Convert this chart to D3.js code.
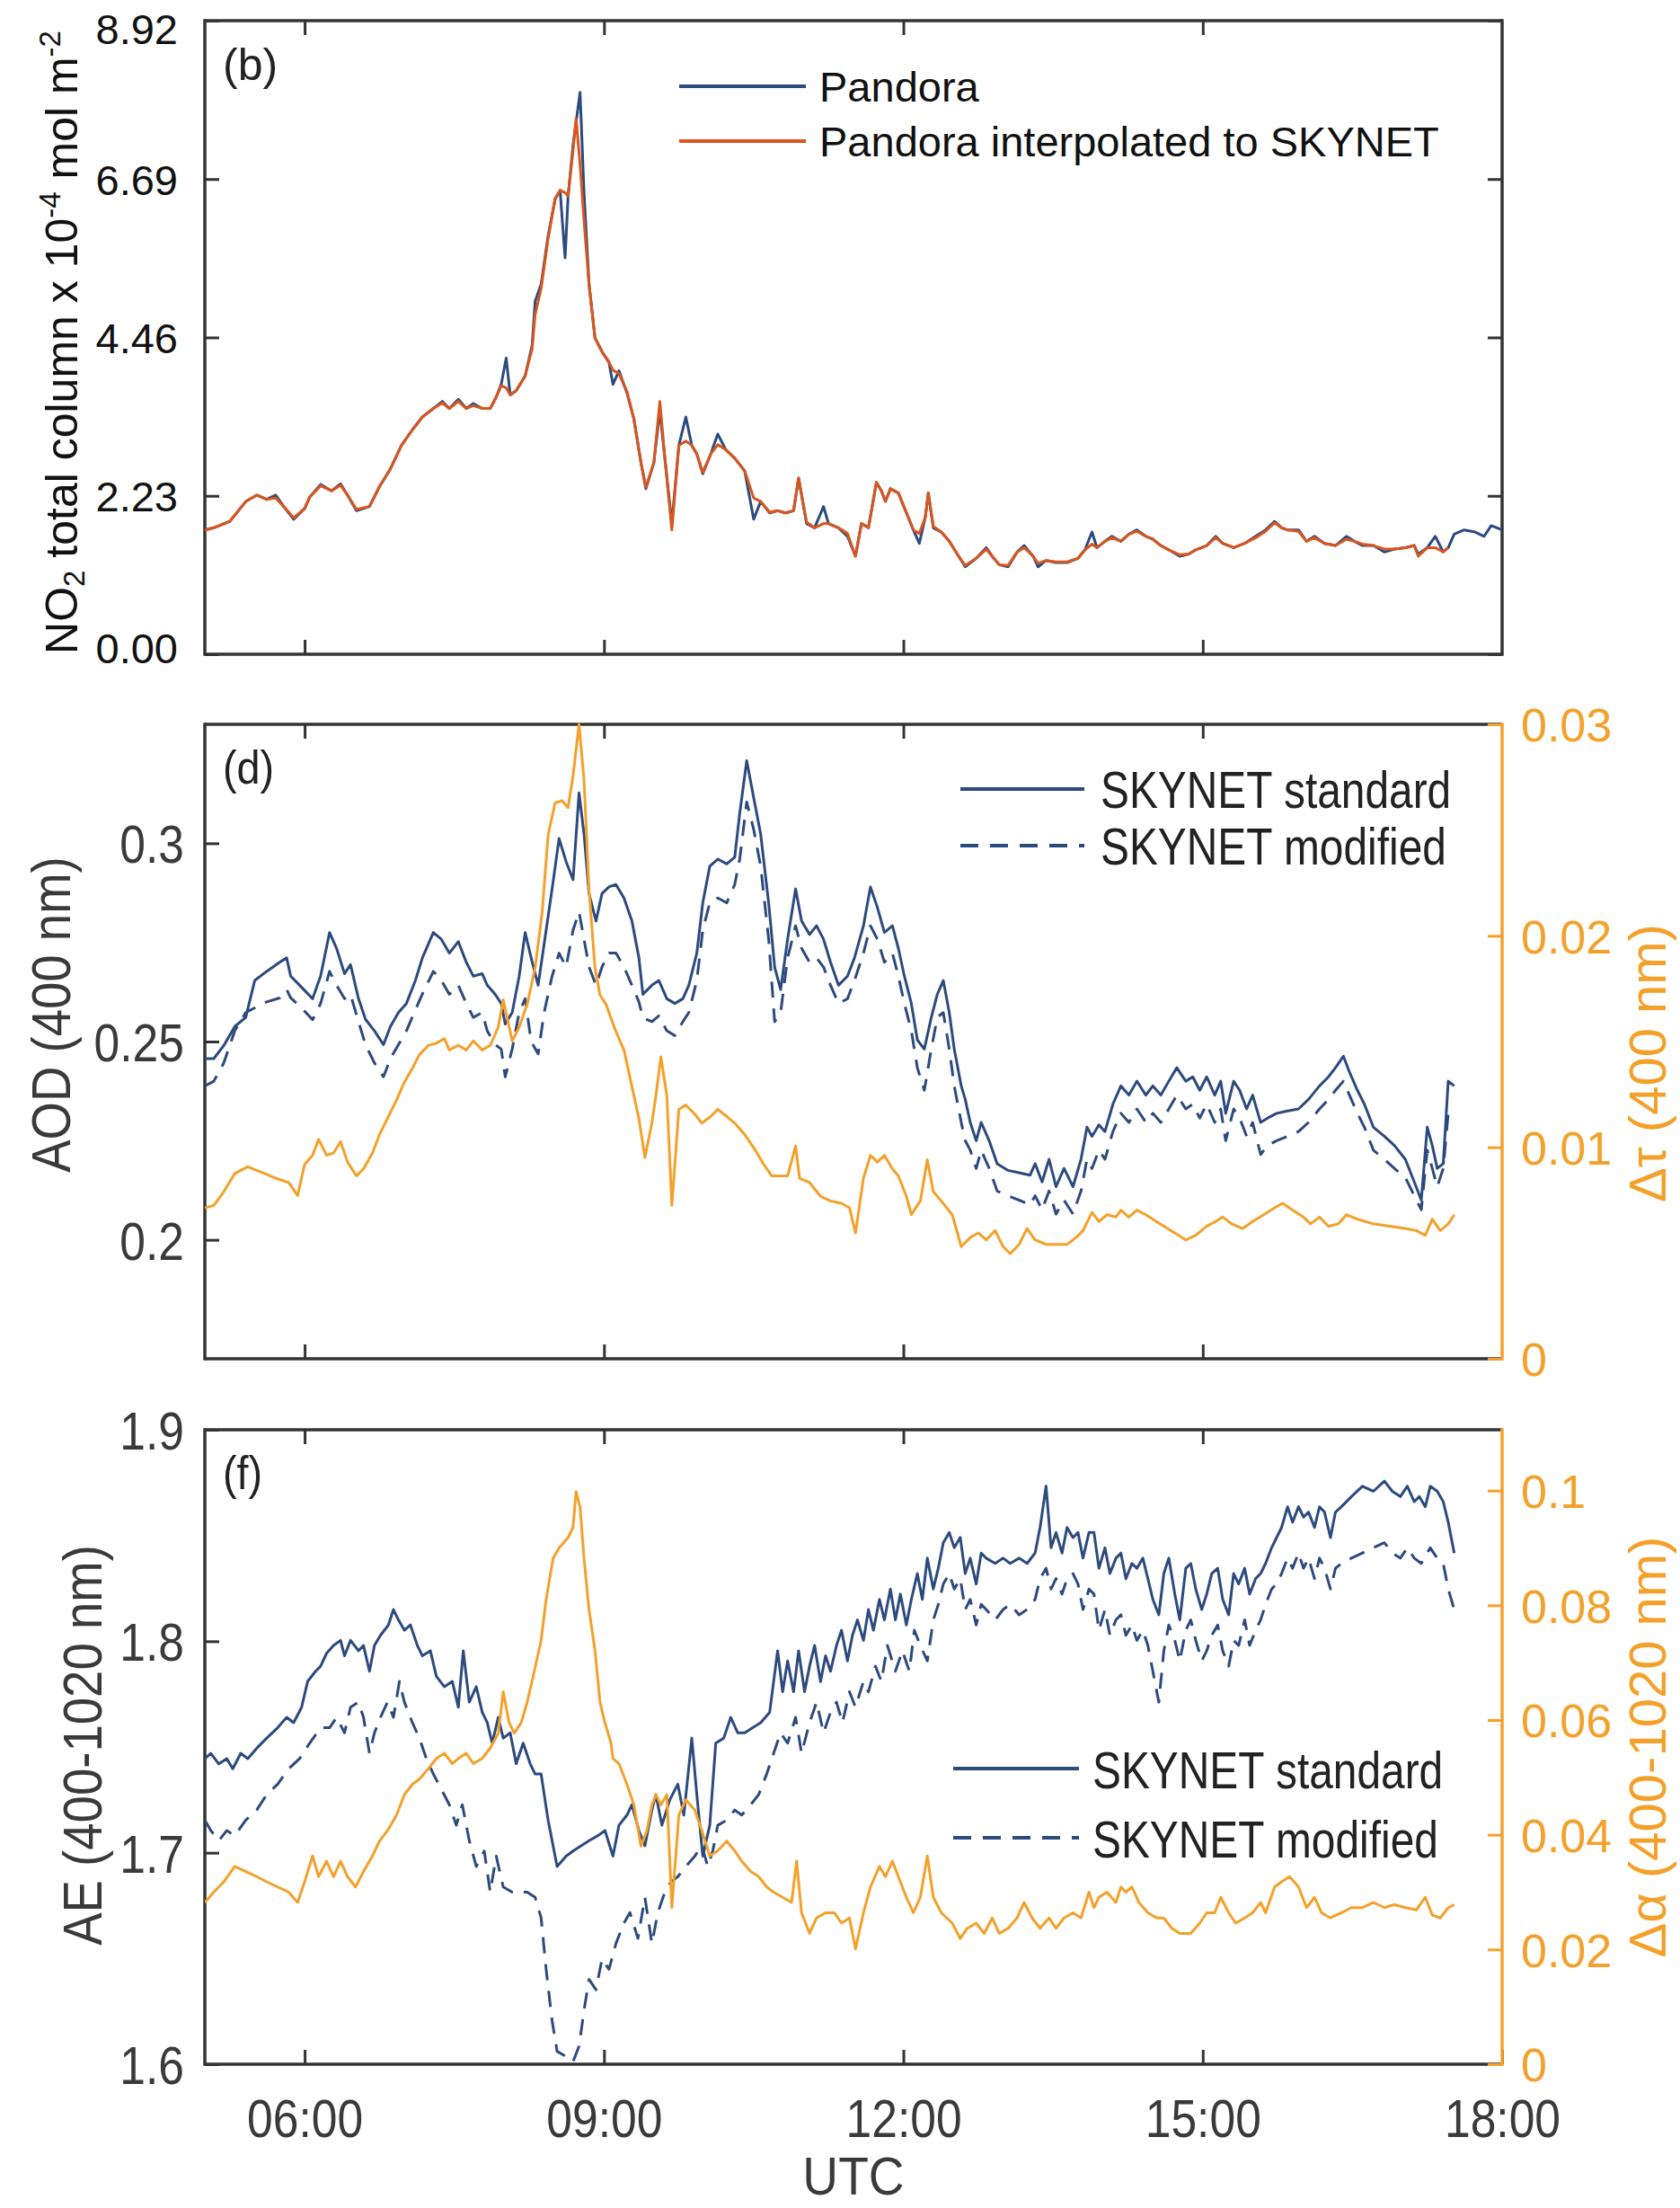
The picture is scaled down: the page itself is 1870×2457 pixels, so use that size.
<!DOCTYPE html>
<html>
<head>
<meta charset="utf-8">
<script src="https://cdn.jsdelivr.net/npm/d3@7"></script>
<style>
  body { margin: 0; background: #fff; }
</style>
</head>
<body>
<div id="chart"></div>
<script>
// ---- data (time in decimal hours UTC, value) ----
const pandora = [[5.00,1.75],[5.09,1.78],[5.25,1.87],[5.41,2.15],[5.52,2.24],[5.62,2.18],[5.71,2.24],[5.79,2.08],[5.89,1.90],[6.00,2.05],
[6.05,2.21],[6.16,2.39],[6.27,2.30],[6.36,2.40],[6.43,2.24],[6.52,2.02],[6.65,2.08],[6.75,2.36],[6.86,2.61],[6.97,2.94],
[7.08,3.16],[7.18,3.34],[7.29,3.46],[7.38,3.56],[7.45,3.46],[7.54,3.59],[7.62,3.46],[7.69,3.53],[7.78,3.46],[7.86,3.46],
[7.92,3.62],[7.97,3.80],[8.02,4.17],[8.06,3.65],[8.12,3.71],[8.21,3.92],[8.28,4.35],[8.31,4.97],[8.37,5.21],[8.44,5.89],
[8.51,6.41],[8.56,6.53],[8.61,5.58],[8.64,6.44],[8.69,7.17],[8.76,7.91],[8.80,6.50],[8.85,5.21],[8.91,4.45],[8.98,4.26],
[9.05,4.11],[9.09,3.80],[9.15,3.99],[9.23,3.68],[9.30,3.31],[9.37,2.70],[9.42,2.33],[9.50,2.70],[9.56,3.43],[9.61,2.76],
[9.68,1.84],[9.75,2.94],[9.82,3.34],[9.88,2.94],[9.93,2.82],[9.99,2.54],[10.07,2.82],[10.14,3.10],[10.22,2.88],[10.31,2.76],
[10.41,2.58],[10.50,1.90],[10.57,2.15],[10.66,1.99],[10.74,2.02],[10.82,1.99],[10.90,2.02],[10.95,2.48],[11.03,1.84],[11.11,1.78],
[11.20,2.08],[11.25,1.84],[11.35,1.78],[11.44,1.66],[11.52,1.38],[11.58,1.84],[11.65,1.78],[11.73,2.42],[11.78,2.30],[11.82,2.15],
[11.87,2.33],[11.95,2.27],[12.03,1.99],[12.10,1.75],[12.16,1.56],[12.22,1.93],[12.25,2.27],[12.30,1.78],[12.38,1.72],[12.46,1.59],
[12.54,1.41],[12.62,1.23],[12.73,1.35],[12.83,1.50],[12.89,1.38],[12.96,1.26],[13.05,1.23],[13.14,1.44],[13.21,1.53],[13.30,1.38],
[13.35,1.23],[13.43,1.32],[13.53,1.29],[13.64,1.29],[13.75,1.35],[13.82,1.47],[13.89,1.72],[13.94,1.50],[14.02,1.59],[14.09,1.66],
[14.18,1.59],[14.26,1.69],[14.34,1.75],[14.43,1.66],[14.50,1.62],[14.58,1.53],[14.66,1.47],[14.77,1.38],[14.86,1.41],[14.93,1.47],
[15.04,1.53],[15.13,1.66],[15.20,1.56],[15.31,1.50],[15.42,1.56],[15.53,1.66],[15.63,1.75],[15.72,1.87],[15.79,1.78],[15.85,1.75],
[15.96,1.75],[16.04,1.59],[16.12,1.66],[16.22,1.56],[16.33,1.53],[16.44,1.66],[16.52,1.59],[16.60,1.53],[16.71,1.53],[16.82,1.44],
[16.92,1.48],[17.03,1.50],[17.12,1.53],[17.16,1.41],[17.25,1.50],[17.33,1.66],[17.41,1.44],[17.46,1.50],[17.52,1.69],[17.62,1.75],
[17.73,1.72],[17.82,1.66],[17.89,1.81],[18.00,1.75]];

const pandoraInterp = [[5.00,1.75],[5.09,1.78],[5.25,1.87],[5.41,2.15],[5.52,2.24],[5.62,2.18],[5.71,2.20],[5.79,2.08],[5.89,1.92],[6.00,2.05],
[6.05,2.21],[6.16,2.37],[6.27,2.30],[6.36,2.38],[6.43,2.24],[6.52,2.04],[6.65,2.08],[6.75,2.36],[6.86,2.61],[6.97,2.94],
[7.08,3.16],[7.18,3.34],[7.29,3.46],[7.38,3.54],[7.45,3.46],[7.54,3.56],[7.62,3.46],[7.69,3.50],[7.78,3.46],[7.86,3.46],
[7.92,3.62],[7.97,3.78],[8.02,3.75],[8.06,3.65],[8.12,3.71],[8.21,3.92],[8.28,4.30],[8.31,4.78],[8.37,5.15],[8.44,5.85],
[8.51,6.41],[8.56,6.53],[8.61,6.50],[8.64,6.45],[8.69,7.10],[8.72,7.54],[8.76,6.90],[8.80,6.10],[8.85,5.21],[8.91,4.45],[8.98,4.26],
[9.05,4.11],[9.09,4.00],[9.15,3.95],[9.23,3.70],[9.30,3.31],[9.37,2.70],[9.42,2.35],[9.50,2.70],[9.56,3.56],[9.61,2.76],
[9.68,1.75],[9.75,2.94],[9.82,3.00],[9.88,2.94],[9.93,2.82],[9.99,2.56],[10.07,2.82],[10.14,2.95],[10.22,2.88],[10.31,2.76],
[10.41,2.58],[10.50,2.20],[10.57,2.15],[10.66,2.00],[10.74,2.02],[10.82,1.99],[10.90,2.02],[10.95,2.48],[11.03,1.86],[11.11,1.78],
[11.20,1.84],[11.25,1.84],[11.35,1.78],[11.44,1.70],[11.52,1.38],[11.58,1.84],[11.65,1.78],[11.73,2.42],[11.78,2.30],[11.82,2.15],
[11.87,2.33],[11.95,2.27],[12.03,2.00],[12.10,1.75],[12.16,1.70],[12.22,1.93],[12.25,2.27],[12.30,1.80],[12.38,1.72],[12.46,1.59],
[12.54,1.41],[12.62,1.25],[12.73,1.35],[12.83,1.48],[12.89,1.38],[12.96,1.26],[13.05,1.25],[13.14,1.44],[13.21,1.50],[13.30,1.38],
[13.35,1.28],[13.43,1.32],[13.53,1.30],[13.64,1.30],[13.75,1.35],[13.82,1.47],[13.89,1.55],[13.94,1.50],[14.02,1.59],[14.09,1.64],
[14.18,1.59],[14.26,1.69],[14.34,1.73],[14.43,1.66],[14.50,1.62],[14.58,1.53],[14.66,1.47],[14.77,1.40],[14.86,1.41],[14.93,1.47],
[15.04,1.53],[15.13,1.64],[15.20,1.56],[15.31,1.50],[15.42,1.56],[15.53,1.64],[15.63,1.73],[15.72,1.85],[15.79,1.78],[15.85,1.75],
[15.96,1.73],[16.04,1.59],[16.12,1.64],[16.22,1.56],[16.33,1.53],[16.44,1.62],[16.52,1.59],[16.60,1.55],[16.71,1.53],[16.82,1.48],
[16.92,1.48],[17.03,1.50],[17.12,1.53],[17.16,1.38],[17.25,1.50],[17.33,1.50],[17.41,1.44],[17.46,1.50]];

const aodStandard = [[5.00,0.2457],[5.09,0.2457],[5.19,0.2490],[5.30,0.2538],[5.41,0.2561],[5.50,0.2654],[5.62,0.2677],[5.75,0.2700],[5.82,0.2711],[5.86,0.2665],
[5.95,0.2642],[6.08,0.2608],[6.16,0.2665],[6.25,0.2775],[6.32,0.2735],[6.40,0.2671],[6.46,0.2694],[6.54,0.2608],[6.61,0.2556],[6.70,0.2527],
[6.79,0.2492],[6.86,0.2538],[6.94,0.2573],[7.02,0.2596],[7.11,0.2654],[7.18,0.2711],[7.29,0.2775],[7.37,0.2758],[7.45,0.2723],[7.54,0.2752],
[7.62,0.2700],[7.69,0.2665],[7.78,0.2671],[7.83,0.2642],[7.91,0.2619],[7.97,0.2596],[8.01,0.2544],[8.08,0.2573],[8.15,0.2665],[8.21,0.2775],
[8.27,0.2711],[8.34,0.2642],[8.40,0.2746],[8.48,0.2885],[8.55,0.3012],[8.62,0.2954],[8.69,0.2908],[8.75,0.3127],[8.80,0.3023],[8.85,0.2873],
[8.92,0.2804],[8.98,0.2873],[9.05,0.2890],[9.12,0.2896],[9.20,0.2862],[9.28,0.2804],[9.35,0.2711],[9.39,0.2619],[9.48,0.2642],[9.55,0.2654],
[9.63,0.2608],[9.71,0.2596],[9.79,0.2608],[9.85,0.2642],[9.93,0.2723],[9.99,0.2850],[10.06,0.2942],[10.14,0.2960],[10.23,0.2948],[10.31,0.2965],
[10.36,0.3075],[10.43,0.3208],[10.50,0.3115],[10.57,0.3023],[10.65,0.2850],[10.71,0.2688],[10.77,0.2631],[10.84,0.2758],[10.92,0.2885],[10.98,0.2804],
[11.06,0.2770],[11.13,0.2792],[11.20,0.2758],[11.27,0.2700],[11.35,0.2642],[11.44,0.2665],[11.51,0.2711],[11.60,0.2792],[11.67,0.2890],[11.74,0.2838],
[11.81,0.2775],[11.89,0.2792],[11.95,0.2735],[12.01,0.2665],[12.08,0.2596],[12.14,0.2504],[12.21,0.2481],[12.28,0.2561],[12.34,0.2619],[12.40,0.2654],
[12.46,0.2573],[12.51,0.2481],[12.58,0.2388],[12.62,0.2354],[12.67,0.2296],[12.73,0.2250],[12.78,0.2296],[12.86,0.2250],[12.94,0.2192],[13.05,0.2175],
[13.16,0.2169],[13.27,0.2163],[13.32,0.2192],[13.39,0.2146],[13.46,0.2203],[13.53,0.2134],[13.61,0.2180],[13.70,0.2134],[13.78,0.2203],[13.84,0.2284],
[13.89,0.2261],[13.96,0.2290],[14.02,0.2273],[14.10,0.2342],[14.18,0.2388],[14.26,0.2365],[14.34,0.2400],[14.43,0.2365],[14.50,0.2388],[14.58,0.2365],
[14.66,0.2400],[14.74,0.2434],[14.83,0.2400],[14.90,0.2411],[14.97,0.2377],[15.04,0.2411],[15.12,0.2365],[15.18,0.2400],[15.23,0.2319],[15.31,0.2400],
[15.37,0.2377],[15.44,0.2330],[15.50,0.2365],[15.58,0.2296],[15.65,0.2307],[15.74,0.2319],[15.85,0.2325],[15.96,0.2330],[16.06,0.2354],[16.17,0.2388],
[16.26,0.2411],[16.33,0.2434],[16.41,0.2463],[16.47,0.2423],[16.55,0.2377],[16.62,0.2342],[16.71,0.2284],[16.82,0.2261],[16.92,0.2238],[17.03,0.2203],
[17.12,0.2146],[17.19,0.2100],[17.25,0.2284],[17.30,0.2238],[17.35,0.2180],[17.41,0.2192],[17.46,0.2400],[17.52,0.2388]];

const aodModified = [[5.00,0.2388],[5.09,0.2400],[5.19,0.2446],[5.30,0.2527],[5.41,0.2573],[5.50,0.2585],[5.62,0.2600],[5.75,0.2610],[5.82,0.2631],[5.86,0.2610],
[5.95,0.2590],[6.08,0.2555],[6.16,0.2596],[6.25,0.2677],[6.32,0.2642],[6.40,0.2608],[6.46,0.2619],[6.54,0.2550],[6.61,0.2492],[6.70,0.2446],
[6.79,0.2411],[6.86,0.2457],[6.94,0.2492],[7.02,0.2527],[7.11,0.2580],[7.18,0.2620],[7.29,0.2677],[7.37,0.2654],[7.45,0.2619],[7.54,0.2642],
[7.62,0.2596],[7.69,0.2561],[7.78,0.2573],[7.83,0.2527],[7.91,0.2492],[7.97,0.2481],[8.01,0.2411],[8.08,0.2481],[8.15,0.2573],[8.21,0.2608],
[8.27,0.2500],[8.34,0.2469],[8.40,0.2573],[8.48,0.2665],[8.55,0.2723],[8.62,0.2688],[8.69,0.2781],[8.75,0.2827],[8.80,0.2758],[8.85,0.2688],
[8.92,0.2642],[8.98,0.2688],[9.05,0.2723],[9.12,0.2723],[9.20,0.2688],[9.28,0.2642],[9.35,0.2600],[9.39,0.2560],[9.48,0.2550],[9.55,0.2565],
[9.63,0.2527],[9.71,0.2515],[9.79,0.2550],[9.85,0.2573],[9.93,0.2654],[9.99,0.2781],[10.06,0.2850],[10.14,0.2862],[10.23,0.2850],[10.31,0.2896],
[10.36,0.2960],[10.43,0.3104],[10.50,0.3035],[10.57,0.2942],[10.65,0.2758],[10.71,0.2550],[10.77,0.2573],[10.84,0.2711],[10.92,0.2792],[10.98,0.2735],
[11.06,0.2700],[11.13,0.2711],[11.20,0.2688],[11.27,0.2642],[11.35,0.2596],[11.44,0.2608],[11.51,0.2654],[11.60,0.2723],[11.67,0.2792],[11.74,0.2758],
[11.81,0.2700],[11.89,0.2723],[11.95,0.2665],[12.01,0.2596],[12.08,0.2527],[12.14,0.2434],[12.21,0.2377],[12.28,0.2481],[12.34,0.2561],[12.40,0.2573],
[12.46,0.2481],[12.51,0.2388],[12.58,0.2296],[12.62,0.2250],[12.67,0.2226],[12.73,0.2180],[12.78,0.2226],[12.86,0.2180],[12.94,0.2123],[13.05,0.2111],
[13.16,0.2100],[13.27,0.2088],[13.32,0.2111],[13.39,0.2076],[13.46,0.2123],[13.53,0.2065],[13.61,0.2100],[13.70,0.2065],[13.78,0.2123],[13.84,0.2203],
[13.89,0.2180],[13.96,0.2226],[14.02,0.2203],[14.10,0.2273],[14.18,0.2319],[14.26,0.2296],[14.34,0.2330],[14.43,0.2296],[14.50,0.2319],[14.58,0.2296],
[14.66,0.2330],[14.74,0.2365],[14.83,0.2330],[14.90,0.2342],[14.97,0.2307],[15.04,0.2342],[15.12,0.2296],[15.18,0.2330],[15.23,0.2250],[15.31,0.2330],
[15.37,0.2307],[15.44,0.2261],[15.50,0.2296],[15.58,0.2215],[15.65,0.2238],[15.74,0.2250],[15.85,0.2261],[15.96,0.2273],[16.06,0.2296],[16.17,0.2330],
[16.26,0.2354],[16.33,0.2377],[16.41,0.2400],[16.47,0.2365],[16.55,0.2319],[16.62,0.2284],[16.71,0.2226],[16.82,0.2203],[16.92,0.2180],[17.03,0.2157],
[17.12,0.2111],[17.19,0.2076],[17.25,0.2226],[17.30,0.2180],[17.35,0.2134],[17.41,0.2180],[17.46,0.2319],[17.52,0.2313]];

const deltaTau = [[5.00,0.00714],[5.09,0.00725],[5.19,0.0079],[5.30,0.00876],[5.43,0.00908],[5.60,0.00876],[5.71,0.00854],[5.84,0.00833],[5.93,0.00772],[6.00,0.00919],
[6.08,0.00962],[6.14,0.01038],[6.22,0.00962],[6.29,0.00973],[6.36,0.01027],[6.43,0.0093],[6.52,0.00865],[6.59,0.00898],[6.68,0.00973],[6.75,0.0106],
[6.83,0.01136],[6.92,0.01222],[7.00,0.01309],[7.08,0.01373],[7.15,0.01438],[7.24,0.01482],[7.32,0.01492],[7.40,0.01514],[7.45,0.0146],[7.54,0.01482],
[7.62,0.0146],[7.69,0.01503],[7.78,0.0146],[7.86,0.01482],[7.94,0.01568],[7.99,0.01698],[8.08,0.01503],[8.15,0.01568],[8.23,0.01676],[8.31,0.01849],
[8.38,0.02109],[8.44,0.02477],[8.51,0.02628],[8.58,0.02639],[8.64,0.02606],[8.69,0.02758],[8.75,0.0300],[8.80,0.02736],[8.85,0.02219],[8.91,0.01849],
[8.96,0.0172],[9.02,0.01676],[9.07,0.01611],[9.12,0.01547],[9.20,0.0146],[9.28,0.01287],[9.35,0.01136],[9.41,0.00952],[9.48,0.01114],[9.52,0.01244],
[9.57,0.01428],[9.63,0.01244],[9.68,0.00725],[9.75,0.01179],[9.82,0.012],[9.91,0.01157],[9.98,0.01114],[10.07,0.01146],[10.14,0.01179],[10.23,0.01146],
[10.31,0.01114],[10.41,0.0106],[10.52,0.00984],[10.60,0.00919],[10.68,0.00865],[10.77,0.00865],[10.84,0.00865],[10.92,0.01006],[10.96,0.00854],[11.06,0.00833],
[11.17,0.00768],[11.27,0.00746],[11.38,0.00735],[11.46,0.00714],[11.52,0.00595],[11.60,0.00854],[11.67,0.00962],[11.74,0.0093],[11.81,0.00962],[11.89,0.00898],
[11.95,0.00865],[12.03,0.00768],[12.08,0.00681],[12.17,0.00746],[12.24,0.00941],[12.30,0.0079],[12.38,0.00746],[12.49,0.00681],[12.58,0.0053],[12.67,0.00573],
[12.75,0.00595],[12.83,0.00562],[12.92,0.00606],[13.00,0.0053],[13.07,0.00497],[13.16,0.00541],[13.24,0.00616],[13.32,0.00562],[13.43,0.00541],[13.53,0.00541],
[13.64,0.00541],[13.73,0.00573],[13.80,0.00606],[13.89,0.00692],[13.96,0.00649],[14.04,0.00681],[14.13,0.0067],[14.18,0.00703],[14.26,0.0067],[14.34,0.00703],
[14.43,0.00681],[14.50,0.0066],[14.61,0.00627],[14.72,0.00595],[14.83,0.00562],[14.93,0.00584],[15.04,0.00627],[15.13,0.00649],[15.20,0.0067],[15.29,0.00638],
[15.40,0.00616],[15.50,0.00649],[15.61,0.00681],[15.72,0.00714],[15.80,0.00735],[15.90,0.00703],[16.01,0.0067],[16.08,0.00638],[16.17,0.0067],[16.26,0.00627],
[16.36,0.00638],[16.44,0.00681],[16.55,0.0066],[16.71,0.00638],[16.87,0.00627],[17.03,0.00616],[17.14,0.00606],[17.23,0.00584],[17.30,0.0066],[17.38,0.00606],
[17.46,0.00638],[17.52,0.00681]];

const aeStandard = [[5.00,1.7445],[5.06,1.7470],[5.14,1.7420],[5.22,1.7445],[5.28,1.7397],[5.36,1.7470],[5.43,1.7445],[5.52,1.7494],[5.62,1.7542],[5.73,1.7591],
[5.82,1.7640],[5.89,1.7615],[5.97,1.7688],[6.03,1.7810],[6.11,1.7858],[6.16,1.7882],[6.22,1.7943],[6.29,1.7980],[6.36,1.8004],[6.40,1.7931],
[6.46,1.8004],[6.54,1.7955],[6.59,1.7980],[6.65,1.7858],[6.70,1.7980],[6.76,1.8028],[6.84,1.8077],[6.89,1.8150],[6.94,1.8101],[7.00,1.8052],
[7.06,1.8077],[7.13,1.7980],[7.18,1.7931],[7.26,1.7955],[7.32,1.7834],[7.40,1.7785],[7.48,1.7810],[7.54,1.7688],[7.59,1.7955],[7.65,1.7712],
[7.72,1.7785],[7.78,1.7664],[7.83,1.7615],[7.88,1.7518],[7.94,1.7640],[7.99,1.7542],[8.06,1.7567],[8.12,1.7421],[8.19,1.7518],[8.26,1.7421],
[8.31,1.7372],[8.37,1.7372],[8.44,1.7154],[8.53,1.6935],[8.62,1.6984],[8.69,1.7008],[8.77,1.7033],[8.85,1.7057],[8.94,1.7081],[9.01,1.7105],
[9.09,1.6984],[9.15,1.7130],[9.23,1.7178],[9.28,1.7227],[9.35,1.7105],[9.41,1.7033],[9.48,1.7202],[9.52,1.7275],[9.58,1.7130],[9.66,1.7251],
[9.74,1.7324],[9.80,1.7178],[9.88,1.7542],[9.93,1.7275],[9.99,1.6984],[10.06,1.7130],[10.12,1.7518],[10.20,1.7542],[10.27,1.7640],[10.34,1.7567],
[10.41,1.7567],[10.49,1.7591],[10.57,1.7615],[10.66,1.7664],[10.74,1.7955],[10.79,1.7761],[10.84,1.7907],[10.90,1.7761],[10.95,1.7955],[11.01,1.7761],
[11.06,1.7882],[11.11,1.7980],[11.17,1.7809],[11.22,1.7931],[11.27,1.7858],[11.33,1.7980],[11.38,1.8052],[11.44,1.7907],[11.49,1.8028],[11.54,1.8101],
[11.60,1.8004],[11.65,1.8150],[11.70,1.8052],[11.76,1.8198],[11.81,1.8101],[11.87,1.8247],[11.92,1.8101],[11.97,1.8223],[12.03,1.8077],[12.08,1.8198],
[12.14,1.8320],[12.19,1.8198],[12.24,1.8393],[12.30,1.8247],[12.35,1.8345],[12.40,1.8466],[12.46,1.8514],[12.51,1.8442],[12.57,1.8491],[12.62,1.8320],
[12.67,1.8393],[12.73,1.8271],[12.78,1.8417],[12.83,1.8393],[12.92,1.8368],[13.00,1.8393],[13.07,1.8368],[13.16,1.8393],[13.24,1.8368],[13.32,1.8417],
[13.37,1.8538],[13.43,1.8733],[13.48,1.8442],[13.53,1.8514],[13.59,1.8417],[13.64,1.8538],[13.70,1.8490],[13.75,1.8514],[13.80,1.8393],[13.86,1.8514],
[13.91,1.8514],[13.96,1.8345],[14.02,1.8442],[14.07,1.8320],[14.13,1.8393],[14.18,1.8417],[14.23,1.8296],[14.29,1.8368],[14.34,1.8345],[14.40,1.8393],
[14.45,1.8296],[14.50,1.8198],[14.56,1.8125],[14.61,1.8320],[14.66,1.8393],[14.72,1.8223],[14.77,1.8101],[14.83,1.8345],[14.88,1.8368],[14.93,1.8247],
[14.99,1.8150],[15.04,1.8223],[15.09,1.8320],[15.15,1.8345],[15.20,1.8198],[15.26,1.8125],[15.31,1.8320],[15.36,1.8271],[15.42,1.8345],[15.47,1.8223],
[15.53,1.8296],[15.58,1.8320],[15.63,1.8368],[15.69,1.8442],[15.74,1.8490],[15.79,1.8538],[15.85,1.8636],[15.90,1.8563],[15.96,1.8636],[16.01,1.8587],
[16.06,1.8611],[16.12,1.8538],[16.17,1.8636],[16.22,1.8611],[16.28,1.8490],[16.33,1.8611],[16.39,1.8636],[16.49,1.8684],[16.60,1.8733],[16.71,1.8709],
[16.82,1.8757],[16.90,1.8709],[16.98,1.8684],[17.05,1.8733],[17.12,1.8660],[17.17,1.8684],[17.23,1.8636],[17.28,1.8733],[17.35,1.8709],[17.41,1.8660],
[17.46,1.8563],[17.52,1.8417]];

const aeModified = [[5.00,1.7154],[5.06,1.7105],[5.14,1.7057],[5.22,1.7105],[5.30,1.7081],[5.41,1.7154],[5.52,1.7202],[5.62,1.7275],[5.73,1.7324],[5.84,1.7397],
[5.95,1.7445],[6.05,1.7518],[6.16,1.7591],[6.25,1.7591],[6.32,1.7640],[6.40,1.7567],[6.46,1.7688],[6.54,1.7712],[6.59,1.7640],[6.65,1.7470],
[6.70,1.7567],[6.76,1.7640],[6.83,1.7712],[6.89,1.7640],[6.95,1.7810],[7.00,1.7712],[7.08,1.7615],[7.15,1.7542],[7.22,1.7445],[7.29,1.7372],
[7.37,1.7300],[7.45,1.7227],[7.52,1.7130],[7.58,1.7227],[7.65,1.7057],[7.72,1.6935],[7.80,1.7008],[7.86,1.6814],[7.92,1.6984],[7.99,1.6838],
[8.08,1.6814],[8.15,1.6814],[8.23,1.6814],[8.31,1.6789],[8.37,1.6692],[8.42,1.6449],[8.48,1.6206],[8.53,1.6061],[8.62,1.6036],[8.69,1.6012],
[8.75,1.6085],[8.80,1.6255],[8.85,1.6401],[8.92,1.6352],[8.98,1.6498],[9.05,1.6449],[9.12,1.6571],[9.20,1.6668],[9.26,1.6717],[9.34,1.6595],
[9.41,1.6789],[9.48,1.6571],[9.54,1.6717],[9.61,1.6814],[9.67,1.6862],[9.74,1.6887],[9.82,1.6935],[9.91,1.6984],[9.98,1.7033],[10.04,1.6935],
[10.09,1.7008],[10.14,1.7130],[10.23,1.7154],[10.31,1.7202],[10.38,1.7178],[10.47,1.7227],[10.55,1.7275],[10.63,1.7372],[10.70,1.7470],[10.77,1.7567],
[10.84,1.7518],[10.92,1.7640],[10.98,1.7470],[11.06,1.7615],[11.13,1.7712],[11.20,1.7567],[11.27,1.7664],[11.33,1.7712],[11.39,1.7615],[11.46,1.7761],
[11.52,1.7688],[11.60,1.7810],[11.65,1.7761],[11.72,1.7882],[11.78,1.7810],[11.84,1.7980],[11.92,1.7858],[11.99,1.7955],[12.06,1.7858],[12.11,1.8052],
[12.17,1.7980],[12.24,1.7907],[12.30,1.8101],[12.35,1.8174],[12.40,1.8271],[12.46,1.8320],[12.51,1.8247],[12.57,1.8296],[12.62,1.8150],[12.67,1.8198],
[12.73,1.8077],[12.78,1.8174],[12.83,1.8150],[12.92,1.8101],[13.00,1.8150],[13.07,1.8174],[13.16,1.8125],[13.24,1.8150],[13.32,1.8198],[13.37,1.8296],
[13.43,1.8345],[13.48,1.8247],[13.53,1.8296],[13.59,1.8223],[13.64,1.8296],[13.70,1.8320],[13.75,1.8271],[13.80,1.8150],[13.86,1.8247],[13.91,1.8223],
[13.96,1.8052],[14.02,1.8150],[14.07,1.8028],[14.13,1.8101],[14.18,1.8125],[14.23,1.8028],[14.29,1.8077],[14.34,1.8004],[14.40,1.8052],[14.45,1.7980],
[14.50,1.7858],[14.56,1.7712],[14.61,1.7955],[14.66,1.8077],[14.72,1.8004],[14.77,1.7907],[14.83,1.8052],[14.88,1.8101],[14.93,1.8004],[14.99,1.7907],
[15.04,1.7955],[15.09,1.8028],[15.15,1.8077],[15.20,1.7955],[15.26,1.7882],[15.31,1.8004],[15.36,1.7980],[15.42,1.8101],[15.47,1.7980],[15.53,1.8052],
[15.58,1.8101],[15.63,1.8174],[15.69,1.8247],[15.74,1.8271],[15.79,1.8320],[15.85,1.8393],[15.90,1.8345],[15.96,1.8417],[16.01,1.8345],[16.06,1.8393],
[16.12,1.8296],[16.17,1.8393],[16.22,1.8345],[16.28,1.8247],[16.33,1.8345],[16.39,1.8368],[16.49,1.8393],[16.60,1.8417],[16.71,1.8442],[16.82,1.8466],
[16.90,1.8417],[16.98,1.8393],[17.05,1.8442],[17.12,1.8393],[17.19,1.8368],[17.28,1.8442],[17.35,1.8393],[17.41,1.8368],[17.46,1.8247],[17.52,1.8150]];

const deltaAlpha = [[5.00,0.0282],[5.09,0.0300],[5.19,0.0318],[5.30,0.0345],[5.41,0.0336],[5.52,0.0327],[5.62,0.0318],[5.73,0.0309],[5.84,0.0300],[5.93,0.0282],
[6.00,0.0318],[6.08,0.0363],[6.14,0.0327],[6.22,0.0354],[6.29,0.0327],[6.36,0.0354],[6.43,0.0327],[6.51,0.0309],[6.59,0.0336],[6.68,0.0363],
[6.75,0.0389],[6.83,0.0407],[6.92,0.0434],[7.00,0.0470],[7.08,0.0488],[7.15,0.0497],[7.24,0.0515],[7.32,0.0533],[7.40,0.0542],[7.48,0.0524],
[7.54,0.0533],[7.62,0.0542],[7.69,0.0524],[7.78,0.0533],[7.86,0.0551],[7.94,0.0577],[7.99,0.0649],[8.05,0.0595],[8.10,0.0577],[8.17,0.0595],
[8.23,0.0631],[8.29,0.0676],[8.37,0.0739],[8.42,0.0810],[8.49,0.0882],[8.55,0.0900],[8.64,0.0918],[8.69,0.0936],[8.72,0.0998],[8.76,0.0971],
[8.80,0.0882],[8.85,0.0792],[8.91,0.0721],[8.96,0.0631],[9.01,0.0595],[9.07,0.0560],[9.09,0.0533],[9.15,0.0524],[9.23,0.0488],[9.30,0.0452],
[9.37,0.0380],[9.43,0.0407],[9.48,0.0452],[9.52,0.0470],[9.57,0.0452],[9.63,0.0470],[9.68,0.0273],[9.75,0.0434],[9.82,0.0461],[9.91,0.0443],
[9.98,0.0407],[10.06,0.0363],[10.14,0.0372],[10.23,0.0389],[10.31,0.0372],[10.38,0.0354],[10.47,0.0336],[10.55,0.0327],[10.63,0.0309],[10.70,0.0300],
[10.79,0.0291],[10.88,0.0282],[10.93,0.0354],[10.98,0.0264],[11.06,0.0228],[11.13,0.0255],[11.22,0.0264],[11.31,0.0264],[11.38,0.0246],[11.46,0.0255],
[11.52,0.0201],[11.60,0.0264],[11.67,0.0309],[11.76,0.0345],[11.82,0.0327],[11.89,0.0354],[11.95,0.0327],[12.03,0.0291],[12.10,0.0264],[12.17,0.0291],
[12.24,0.0363],[12.30,0.0291],[12.38,0.0264],[12.49,0.0246],[12.57,0.0219],[12.64,0.0237],[12.73,0.0246],[12.81,0.0228],[12.89,0.0255],[12.96,0.0228],
[13.05,0.0237],[13.14,0.0255],[13.21,0.0282],[13.29,0.0255],[13.37,0.0237],[13.46,0.0255],[13.53,0.0237],[13.61,0.0255],[13.70,0.0264],[13.78,0.0255],
[13.86,0.0300],[13.91,0.0273],[13.96,0.0291],[14.04,0.0300],[14.13,0.0282],[14.18,0.0309],[14.23,0.0300],[14.29,0.0309],[14.36,0.0282],[14.45,0.0264],
[14.54,0.0255],[14.61,0.0255],[14.69,0.0237],[14.77,0.0228],[14.88,0.0228],[14.97,0.0246],[15.04,0.0264],[15.12,0.0264],[15.18,0.0291],[15.26,0.0264],
[15.33,0.0246],[15.42,0.0255],[15.50,0.0264],[15.58,0.0282],[15.63,0.0264],[15.72,0.0309],[15.79,0.0318],[15.87,0.0327],[15.96,0.0309],[16.04,0.0273],
[16.12,0.0291],[16.19,0.0264],[16.28,0.0255],[16.39,0.0264],[16.49,0.0273],[16.60,0.0273],[16.71,0.0282],[16.82,0.0273],[16.92,0.0278],[17.03,0.0273],
[17.14,0.0269],[17.23,0.0291],[17.30,0.0260],[17.38,0.0255],[17.46,0.0273],[17.52,0.0278]];

const timeTicks = [6, 9, 12, 15, 18];
const no2Ticks = [0, 2.23, 4.46, 6.69, 8.92];
const aodTicks = [0.2, 0.25, 0.3];
const dTauTicks = [0, 0.01, 0.02, 0.03];
const aeTicks = [1.6, 1.7, 1.8, 1.9];
const dAlphaTicks = [0, 0.02, 0.04, 0.06, 0.08, 0.1];

// ---- styling ----
const FONT = "'Liberation Sans', Arial, Helvetica, sans-serif";
const BLUE = '#2c4a7e', RED = '#d9561f', ORANGE = '#f4a12b';
const DARK = '#333', GREY = '#3a3a3a';
const W = 1870, H = 2457;
const L = 228, R = 1672;

const svg = d3.select('#chart').append('svg')
  .attr('width', W).attr('height', H)
  .attr('font-family', FONT)
  .style('background', '#fff');

const x = d3.scaleLinear().domain([5, 18]).range([L, R]);
const hhmm = h => String(h).padStart(2, '0') + ':00';

// text helper; sx < 1 squeezes glyphs horizontally (the figure uses a narrow face)
function addText(g, str, px, py, o) {
  let tr = `translate(${px},${py})`;
  if (o.rotate) tr += ` rotate(${o.rotate})`;
  if (o.sx) tr += ` scale(${o.sx},1)`;
  return g.append('text')
    .attr('transform', tr)
    .attr('text-anchor', o.anchor || 'start')
    .attr('font-size', o.size)
    .attr('fill', o.color)
    .text(str);
}

function styleTicks(ax, color) {
  ax.select('.domain').remove();
  ax.selectAll('.tick line').attr('stroke', color).attr('stroke-width', 3);
}

function drawPanel(cfg) {
  const g = svg.append('g');
  const y = d3.scaleLinear().domain(cfg.yDomain).range([cfg.bottom, cfg.top]);

  const clipId = 'clip-' + cfg.name;
  svg.append('clipPath').attr('id', clipId).append('rect')
    .attr('x', L).attr('y', cfg.top - 2).attr('width', R - L).attr('height', cfg.bottom - cfg.top + 4);

  // top / bottom time ticks
  const top = g.append('g').attr('transform', `translate(0,${cfg.top})`)
    .call(d3.axisTop(x).tickValues([6, 9, 12, 15]).tickSizeInner(-16).tickSizeOuter(0).tickFormat(''));
  styleTicks(top, DARK);
  const bot = g.append('g').attr('transform', `translate(0,${cfg.bottom})`)
    .call(d3.axisBottom(x).tickValues(cfg.timeLabels ? timeTicks : [6, 9, 12, 15])
      .tickSizeInner(-16).tickSizeOuter(0).tickFormat(cfg.timeLabels ? hhmm : ''));
  styleTicks(bot, DARK);
  if (cfg.timeLabels) {
    bot.selectAll('.tick text')
      .attr('y', 0).attr('dy', null)
      .attr('transform', 'translate(0,81) scale(0.86,1)')
      .attr('font-size', 60).attr('fill', GREY).attr('font-family', FONT);
  }

  // left axis
  const lf = g.append('g').attr('transform', `translate(${L},0)`)
    .call(d3.axisLeft(y).tickValues(cfg.leftTicks).tickFormat(cfg.leftFormat)
      .tickSizeInner(-16).tickSizeOuter(0));
  styleTicks(lf, DARK);
  lf.selectAll('.tick text')
    .attr('x', 0).attr('dy', '0.36em')
    .attr('transform', (d, i) => `translate(${cfg.leftLabelX - L},${cfg.leftNudge ? cfg.leftNudge[i] : 0}) scale(${cfg.leftSx},1)`)
    .attr('font-size', cfg.leftSize).attr('fill', cfg.textColor).attr('font-family', FONT);

  // frame
  g.append('line').attr('x1', L).attr('x2', R).attr('y1', cfg.top).attr('y2', cfg.top)
    .attr('stroke', DARK).attr('stroke-width', 3.5);
  g.append('line').attr('x1', L).attr('x2', R).attr('y1', cfg.bottom).attr('y2', cfg.bottom)
    .attr('stroke', DARK).attr('stroke-width', 3.5);
  g.append('line').attr('x1', L).attr('x2', L).attr('y1', cfg.top - 1.75).attr('y2', cfg.bottom + 1.75)
    .attr('stroke', DARK).attr('stroke-width', 3.5);

  let y2 = null;
  if (cfg.rightDomain) {
    y2 = d3.scaleLinear().domain(cfg.rightDomain).range([cfg.bottom, cfg.top]);
  } else {
    // mirrored ticks
    const rt = g.append('g').attr('transform', `translate(${R},0)`)
      .call(d3.axisRight(y).tickValues(cfg.leftTicks).tickFormat('').tickSizeInner(-16).tickSizeOuter(0));
    styleTicks(rt, DARK);
    g.append('line').attr('x1', R).attr('x2', R).attr('y1', cfg.top - 1.75).attr('y2', cfg.bottom + 1.75)
      .attr('stroke', DARK).attr('stroke-width', 3.5);
  }

  const plot = g.append('g').attr('clip-path', `url(#${clipId})`);
  return { g, y, y2, plot };
}

function drawRightAxis(p, cfg) {
  p.g.append('line').attr('x1', R).attr('x2', R).attr('y1', cfg.top - 1.75).attr('y2', cfg.bottom + 1.75)
    .attr('stroke', ORANGE).attr('stroke-width', 3.5);
  const ra = p.g.append('g').attr('transform', `translate(${R},0)`)
    .call(d3.axisRight(p.y2).tickValues(cfg.rightTicks).tickFormat(d3.format('~g'))
      .tickSizeInner(-16).tickSizeOuter(0).tickPadding(21));
  styleTicks(ra, ORANGE);
  ra.selectAll('.tick text')
    .attr('dy', '0.36em').attr('font-size', 52).attr('fill', ORANGE).attr('font-family', FONT);
}

function drawLine(plot, data, xs, ys, color, dash) {
  const line = d3.line().x(d => xs(d[0])).y(d => ys(d[1]));
  plot.append('path').datum(data)
    .attr('fill', 'none').attr('stroke', color).attr('stroke-width', 3)
    .attr('stroke-linejoin', 'round')
    .attr('stroke-dasharray', dash || null)
    .attr('d', line);
}

// ===== panel (b): NO2 =====
const no2Cfg = { name: 'no2', top: 23, bottom: 728, yDomain: [0, 8.92],
  leftTicks: no2Ticks, leftFormat: d3.format('.2f'), leftLabelX: 198, leftSx: 1, leftSize: 47, textColor: '#111',
  leftNudge: [-7, 0, 0, 0, 9] };
const p1 = drawPanel(no2Cfg);
drawLine(p1.plot, pandora, x, p1.y, BLUE);
drawLine(p1.plot, pandoraInterp, x, p1.y, RED);
addText(p1.g, '(b)', 248, 89, { size: 50, color: '#222' });

// y label with sub/superscripts
const yl1 = p1.g.append('text')
  .attr('transform', 'translate(86,381) rotate(-90)')
  .attr('text-anchor', 'middle').attr('font-size', 50).attr('fill', '#111');
yl1.append('tspan').text('NO');
yl1.append('tspan').attr('font-size', 33).attr('baseline-shift', '-8').text('2');
yl1.append('tspan').text(' total column x 10');
yl1.append('tspan').attr('font-size', 33).attr('baseline-shift', '19').text('-4');
yl1.append('tspan').text(' mol m');
yl1.append('tspan').attr('font-size', 33).attr('baseline-shift', '19').text('-2');

// legend (b)
p1.g.append('line').attr('x1', 756).attr('x2', 897).attr('y1', 96).attr('y2', 96).attr('stroke', BLUE).attr('stroke-width', 4);
p1.g.append('line').attr('x1', 756).attr('x2', 897).attr('y1', 157).attr('y2', 157).attr('stroke', RED).attr('stroke-width', 4);
addText(p1.g, 'Pandora', 912, 113, { size: 47, color: '#111' });
addText(p1.g, 'Pandora interpolated to SKYNET', 912, 174, { size: 47, color: '#111' });

// ===== panel (d): AOD =====
const aodCfg = { name: 'aod', top: 806, bottom: 1512, yDomain: [0.17, 0.33],
  leftTicks: aodTicks, leftFormat: d3.format('~g'), leftLabelX: 205, leftSx: 0.86, leftSize: 60, textColor: GREY,
  rightDomain: [0, 0.03], rightTicks: dTauTicks };
const p2 = drawPanel(aodCfg);
drawLine(p2.plot, aodStandard, x, p2.y, BLUE);
drawLine(p2.plot, aodModified, x, p2.y, BLUE, '18,12');
drawLine(p2.plot, deltaTau, x, p2.y2, ORANGE);
drawRightAxis(p2, aodCfg);
addText(p2.g, '(d)', 248, 872, { size: 52, color: '#222', sx: 0.9 });
addText(p2.g, 'AOD (400 nm)', 78, 1129, { size: 62, color: GREY, rotate: -90, sx: 0.88, anchor: 'middle' });
addText(p2.g, 'Δτ (400 nm)', 1854, 1183, { size: 58, color: ORANGE, rotate: -90, anchor: 'middle' });

p2.g.append('line').attr('x1', 1069).attr('x2', 1207).attr('y1', 878).attr('y2', 878).attr('stroke', BLUE).attr('stroke-width', 4);
p2.g.append('line').attr('x1', 1069).attr('x2', 1207).attr('y1', 941).attr('y2', 941).attr('stroke', BLUE).attr('stroke-width', 4).attr('stroke-dasharray', '20,13');
addText(p2.g, 'SKYNET standard', 1225, 899, { size: 57, color: '#222', sx: 0.84 });
addText(p2.g, 'SKYNET modified', 1225, 962, { size: 57, color: '#222', sx: 0.84 });

// ===== panel (f): AE =====
const aeCfg = { name: 'ae', top: 1591, bottom: 2297, yDomain: [1.6, 1.9],
  leftTicks: aeTicks, leftFormat: d3.format('~g'), leftLabelX: 205, leftSx: 0.86, leftSize: 60, textColor: GREY,
  rightDomain: [0, 0.1106], rightTicks: dAlphaTicks, timeLabels: true };
const p3 = drawPanel(aeCfg);
drawLine(p3.plot, aeStandard, x, p3.y, BLUE);
drawLine(p3.plot, aeModified, x, p3.y, BLUE, '18,12');
drawLine(p3.plot, deltaAlpha, x, p3.y2, ORANGE);
drawRightAxis(p3, aeCfg);
addText(p3.g, '(f)', 248, 1657, { size: 52, color: '#222', sx: 0.9 });
addText(p3.g, 'AE (400-1020 nm)', 113, 1942, { size: 62, color: GREY, rotate: -90, sx: 0.88, anchor: 'middle' });
addText(p3.g, 'Δα (400-1020 nm)', 1854, 1944, { size: 58, color: ORANGE, rotate: -90, anchor: 'middle' });

p3.g.append('line').attr('x1', 1061).attr('x2', 1201).attr('y1', 1968).attr('y2', 1968).attr('stroke', BLUE).attr('stroke-width', 4);
p3.g.append('line').attr('x1', 1061).attr('x2', 1201).attr('y1', 2045).attr('y2', 2045).attr('stroke', BLUE).attr('stroke-width', 4).attr('stroke-dasharray', '20,13');
addText(p3.g, 'SKYNET standard', 1216, 1990, { size: 57, color: '#222', sx: 0.84 });
addText(p3.g, 'SKYNET modified', 1216, 2067, { size: 57, color: '#222', sx: 0.84 });

// x axis title
addText(svg, 'UTC', (L + R) / 2, 2442, { size: 60, color: GREY, sx: 0.92, anchor: 'middle' });
</script>
</body>
</html>
